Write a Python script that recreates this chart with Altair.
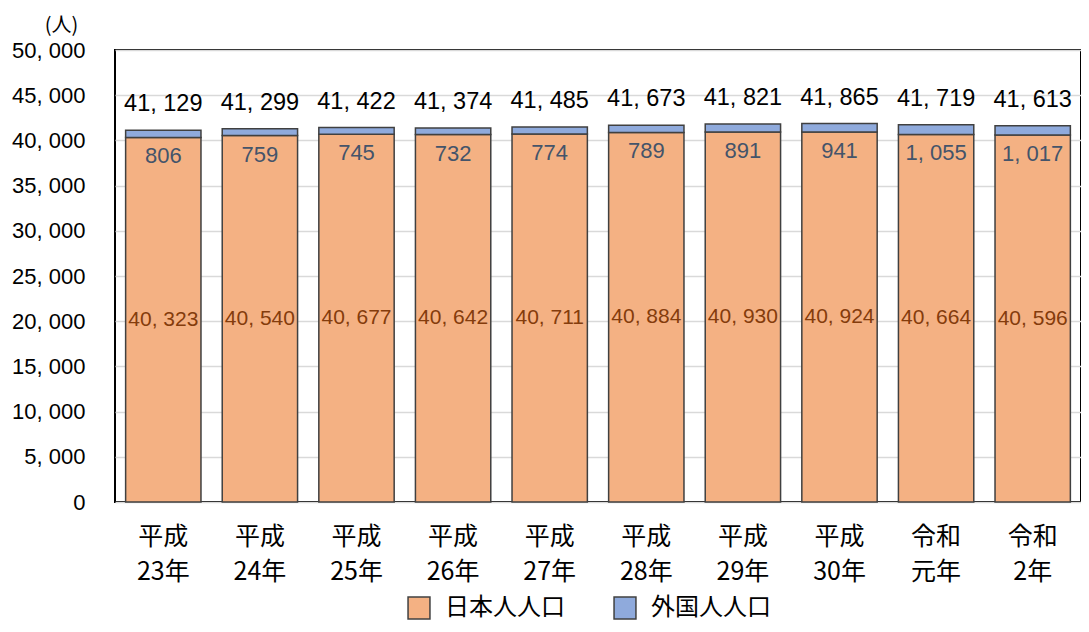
import altair as alt
import pandas as pd

years = ["平成|23年", "平成|24年", "平成|25年", "平成|26年", "平成|27年",
         "平成|28年", "平成|29年", "平成|30年", "令和|元年", "令和|2年"]
japanese = [40323, 40540, 40677, 40642, 40711, 40884, 40930, 40924, 40664, 40596]
foreign = [806, 759, 745, 732, 774, 789, 891, 941, 1055, 1017]
totals = [41129, 41299, 41422, 41374, 41485, 41673, 41821, 41865, 41719, 41613]
series = ["日本人人口", "外国人人口"]
colors = ["#F4B183", "#8FAADC"]

FONT = "Liberation Sans"
JFONT = "Noto Sans CJK JP"


def fmt(v):
    return f"{v:,}".replace(",", ", ")


long_rows = []
for y, j, f in zip(years, japanese, foreign):
    long_rows.append({"year": y, "series": series[0], "value": j, "ord": 0})
    long_rows.append({"year": y, "series": series[1], "value": f, "ord": 1})
long = pd.DataFrame(long_rows)

wide = pd.DataFrame({
    "year": years,
    "jp": japanese,
    "fr": foreign,
    "total": totals,
    "jp_mid": [j / 2 for j in japanese],
    "jp_label": [fmt(v) for v in japanese],
    "fr_label": [fmt(v) for v in foreign],
    "total_label": [fmt(v) for v in totals],
})

xenc = alt.X("year:N", sort=years,
             scale=alt.Scale(paddingInner=0.22, paddingOuter=0.11),
             axis=alt.Axis(title=None, labelExpr="split(datum.label, '|')",
                           labelAngle=0, labelFont=JFONT, labelFontSize=25,
                           labelColor="#000000", labelPadding=22, labelLineHeight=35,
                           ticks=False, domain=False, grid=False))

yscale = alt.Scale(domain=[0, 50000])

bars = alt.Chart(long).mark_bar(stroke="#404040", strokeWidth=1.5).encode(
    x=xenc,
    y=alt.Y("value:Q", stack="zero", scale=yscale,
            axis=alt.Axis(title="(人)", titleAngle=0, titleFont=JFONT, titleFontSize=20,
                          titleFontWeight="normal", titleColor="#000000",
                          titleAlign="center", titleBaseline="alphabetic", titleX=-54, titleY=-18.5,
                          values=list(range(0, 50001, 5000)),
                          labelExpr="replace(format(datum.value, ','), ',', ', ')",
                          labelFont=FONT, labelFontSize=22, labelColor="#000000",
                          labelPadding=30, ticks=False, domain=False,
                          grid=True, gridColor="#D9D9D9", gridWidth=1.5)),
    color=alt.Color("series:N", scale=alt.Scale(domain=series, range=colors),
                    legend=alt.Legend(title=None, orient="none", direction="horizontal",
                                      legendX=292, legendY=546,
                                      symbolType="square", symbolSize=480,
                                      symbolStrokeColor="#404040", symbolStrokeWidth=1.5,
                                      symbolOpacity=1,
                                      labelFont=JFONT, labelFontSize=24, labelColor="#000000",
                                      columnPadding=46, labelOffset=14)),
    order=alt.Order("ord:Q", sort="ascending"),
)

total_text = alt.Chart(wide).mark_text(font=FONT, fontSize=23.5, color="#000000",
                                       baseline="middle", dy=-26).encode(
    x=alt.X("year:N", sort=years), y=alt.Y("total:Q", scale=yscale), text="total_label:N")

fr_text = alt.Chart(wide).mark_text(font=FONT, fontSize=22, color="#44546A",
                                    baseline="middle", dy=19).encode(
    x=alt.X("year:N", sort=years), y=alt.Y("jp:Q", scale=yscale), text="fr_label:N")

jp_text = alt.Chart(wide).mark_text(font=FONT, fontSize=21, color="#843C0C",
                                    baseline="middle").encode(
    x=alt.X("year:N", sort=years), y=alt.Y("jp_mid:Q", scale=yscale), text="jp_label:N")

chart = alt.layer(bars, total_text, fr_text, jp_text).properties(
    width=966, height=452,
    autosize=alt.AutoSizeParams(type="none"),
    padding={"left": 107, "top": 42, "right": 0, "bottom": 122},
).configure_view(stroke="#000000", strokeWidth=2)

chart.save("out.html", embed_options={"renderer": "svg", "actions": False})
